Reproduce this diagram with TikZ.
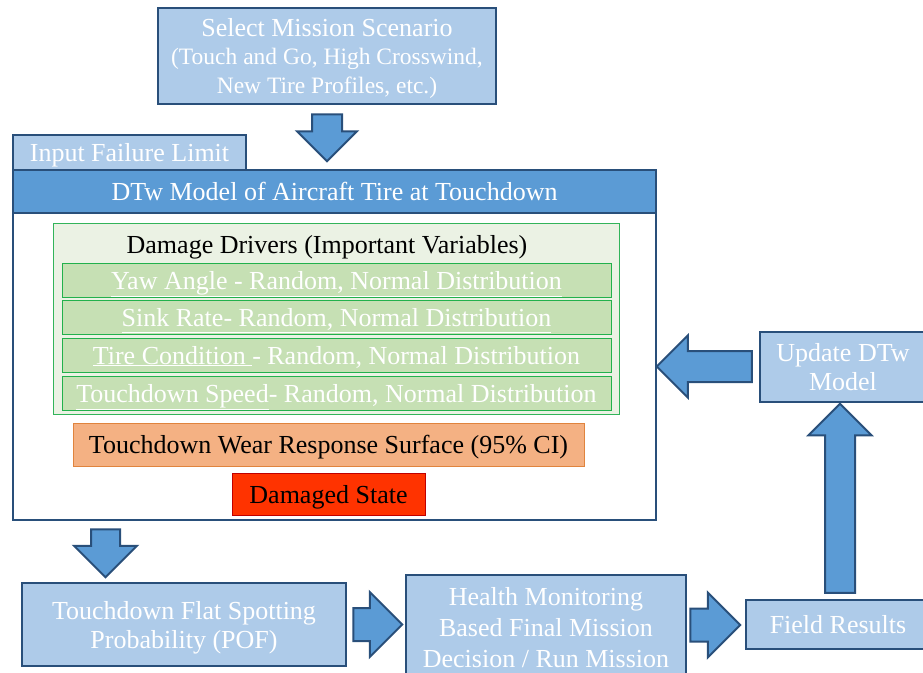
\documentclass[tikz,border=0pt]{standalone}
\usepackage{fontspec}
\setmainfont{Liberation Serif}
\usetikzlibrary{shapes.arrows,positioning,calc}

\definecolor{boxfill}{RGB}{174,203,233}
\definecolor{boxline}{RGB}{41,79,122}
\definecolor{arrowfill}{RGB}{91,155,213}
\definecolor{drvfill}{RGB}{235,242,228}
\definecolor{drvline}{RGB}{50,180,90}
\definecolor{rowfill}{RGB}{198,224,180}
\definecolor{rowline}{RGB}{34,177,76}
\definecolor{rsfill}{RGB}{244,177,131}
\definecolor{rsline}{RGB}{224,132,62}
\definecolor{dmgfill}{RGB}{255,51,0}
\definecolor{dmgline}{RGB}{192,0,0}

\begin{document}
\begin{tikzpicture}[x=1pt, y=-1pt,
  font=\fontsize{26}{29}\selectfont, text depth=0pt,
  bluebox/.style={rectangle, draw=boxline, fill=boxfill, line width=2.5pt,
    text=white, align=center, inner sep=0pt},
  rowbox/.style={rectangle, draw=rowline, fill=rowfill, line width=1pt,
    text=white, minimum width=549pt, minimum height=34pt, inner sep=0pt},
  fat/.style={single arrow, draw=boxline, fill=arrowfill, line width=2pt,
    inner xsep=0pt, anchor=tail}]
  \useasboundingbox (0,0) rectangle (923,672);
  \clip (0,0) rectangle (923,672);

  % scenario and model
  \node[bluebox, minimum width=338pt, minimum height=96pt, text depth=-8pt] (scen)
    at (327,56) {Select Mission Scenario\\[-1pt]\fontsize{23.5}{28}\selectfont
    (Touch and Go, High Crosswind,\\\fontsize{23.5}{28}\selectfont
    New Tire Profiles, etc.)};
  \node[bluebox, minimum width=233pt, minimum height=35pt] (limit) at (129.5,152.5)
    {Input Failure Limit};
  \node[rectangle, draw=boxline, fill=white, line width=2.5pt,
    minimum width=643pt, minimum height=350pt] (model) at (334.5,345) {};
  \node[bluebox, fill=arrowfill, minimum width=643pt, minimum height=43pt] (head)
    at (334.5,191.5) {DTw Model of Aircraft Tire at Touchdown};

  % damage drivers
  \node[rectangle, draw=drvline, fill=drvfill, line width=1pt,
    minimum width=566pt, minimum height=191pt] (drv) at (336,318.5) {};
  \node (drvtitle) at (327,244) {Damage Drivers (Important Variables)};
  \node[rowbox] (yaw) at (336.5,280)
    {\underline{Yaw Angle - Random, Normal Distribution}};
  \node[rowbox] (sink) at (336.5,317.5)
    {\underline{Sink Rate- Random, Normal Distribution}};
  \node[rowbox] (tire) at (336.5,355)
    {\underline{Tire Condition }- Random, Normal Distribution};
  \node[rowbox] (speed) at (336.5,393)
    {\underline{Touchdown Speed}- Random, Normal Distribution};
  \node[rectangle, draw=rsline, fill=rsfill, line width=1pt,
    minimum width=511pt, minimum height=43pt] (rs) at (328.5,444.5)
    {Touchdown Wear Response Surface (95\% CI)};
  \node[rectangle, draw=dmgline, fill=dmgfill, line width=1pt,
    minimum width=193pt, minimum height=42pt] (dmg) at (328.5,494)
    {Damaged State};

  % bottom row
  \node[bluebox, minimum width=324pt, minimum height=83pt] (pof) at (184,624.5)
    {Touchdown Flat Spotting\\Probability (POF)};
  \node[bluebox, minimum width=280pt, minimum height=104pt,
    font=\fontsize{26}{31}\selectfont] (hm) at (546,627)
    {Health Monitoring\\Based Final Mission\\Decision / Run Mission};
  \node[bluebox, minimum width=184pt, minimum height=49pt] (field) at (838,624.5)
    {Field Results};
  \node[bluebox, minimum width=166pt, minimum height=70pt] (upd) at (843,367)
    {Update DTw\\Model};

  % block arrows
  \node[fat, rotate=-90, minimum height=47pt, inner ysep=14pt,
    single arrow head extend=15pt] (a1) at ($(scen.south)+(0,8)$) {};
  \node[fat, rotate=-90, minimum height=48pt, inner ysep=13.5pt,
    single arrow head extend=17pt] (a2) at ($(model.south)+(-229,7)$) {};
  \node[fat, minimum height=49pt, inner ysep=15.5pt,
    single arrow head extend=16pt] (a3) at ($(pof.east)+(5,0)$) {};
  \node[fat, minimum height=50pt, inner ysep=15.5pt,
    single arrow head extend=16pt] (a4) at ($(hm.east)+(2,-2)$) {};
  \node[fat, rotate=90, minimum height=189pt, inner ysep=14pt,
    single arrow head extend=16.5pt] (a5) at ($(field.north)+(2,-5)$) {};
  \node[fat, rotate=180, minimum height=95pt, inner ysep=14.5pt,
    single arrow head extend=15.5pt] (a6) at ($(upd.west)+(-6,-0.5)$) {};
\end{tikzpicture}
\end{document}
